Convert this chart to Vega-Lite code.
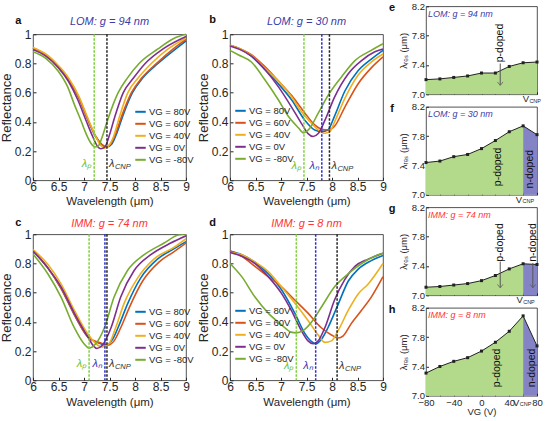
{
  "$schema": "https://vega.github.io/schema/vega-lite/v6.json",
  "padding": {"left": 0, "top": 0, "right": 0, "bottom": 0},
  "config": {
    "font": "Liberation Sans",
    "view": {"stroke": "#262626", "strokeWidth": 0.8},
    "axis": {"domain": false, "grid": false, "tickColor": "#262626", "labelColor": "#262626", "titleColor": "#262626", "titleFontWeight": "normal", "labelFlush": false, "labelOverlap": false, "tickCount": 20},
    "legend": {"symbolType": "stroke", "symbolSize": 110, "symbolStrokeWidth": 2, "labelFontSize": 9.5, "labelColor": "#262626", "labelOffset": 2, "rowPadding": 1, "padding": 0}
  },
  "datasets": {
    "refl": [
      {"p":"a","v":"80V","w":6,"r":0.905},{"p":"a","v":"80V","w":6.25,"r":0.86},{"p":"a","v":"80V","w":6.5,"r":0.78},{"p":"a","v":"80V","w":6.7,"r":0.69},{"p":"a","v":"80V","w":6.9,"r":0.565},{"p":"a","v":"80V","w":7.07,"r":0.42},{"p":"a","v":"80V","w":7.23,"r":0.3},{"p":"a","v":"80V","w":7.35,"r":0.245},{"p":"a","v":"80V","w":7.45,"r":0.228},{"p":"a","v":"80V","w":7.55,"r":0.25},{"p":"a","v":"80V","w":7.64,"r":0.32},{"p":"a","v":"80V","w":7.77,"r":0.45},{"p":"a","v":"80V","w":7.95,"r":0.6},{"p":"a","v":"80V","w":8.15,"r":0.7},{"p":"a","v":"80V","w":8.45,"r":0.8},{"p":"a","v":"80V","w":8.8,"r":0.9},{"p":"a","v":"80V","w":9,"r":0.955},
      {"p":"a","v":"60V","w":6,"r":0.905},{"p":"a","v":"60V","w":6.25,"r":0.86},{"p":"a","v":"60V","w":6.5,"r":0.78},{"p":"a","v":"60V","w":6.7,"r":0.69},{"p":"a","v":"60V","w":6.9,"r":0.565},{"p":"a","v":"60V","w":7.07,"r":0.42},{"p":"a","v":"60V","w":7.23,"r":0.3},{"p":"a","v":"60V","w":7.34,"r":0.248},{"p":"a","v":"60V","w":7.43,"r":0.23},{"p":"a","v":"60V","w":7.52,"r":0.248},{"p":"a","v":"60V","w":7.62,"r":0.32},{"p":"a","v":"60V","w":7.75,"r":0.45},{"p":"a","v":"60V","w":7.93,"r":0.6},{"p":"a","v":"60V","w":8.13,"r":0.7},{"p":"a","v":"60V","w":8.42,"r":0.8},{"p":"a","v":"60V","w":8.75,"r":0.9},{"p":"a","v":"60V","w":9,"r":0.965},
      {"p":"a","v":"40V","w":6,"r":0.91},{"p":"a","v":"40V","w":6.25,"r":0.865},{"p":"a","v":"40V","w":6.5,"r":0.785},{"p":"a","v":"40V","w":6.7,"r":0.7},{"p":"a","v":"40V","w":6.9,"r":0.575},{"p":"a","v":"40V","w":7.07,"r":0.43},{"p":"a","v":"40V","w":7.23,"r":0.3},{"p":"a","v":"40V","w":7.33,"r":0.238},{"p":"a","v":"40V","w":7.4,"r":0.22},{"p":"a","v":"40V","w":7.48,"r":0.235},{"p":"a","v":"40V","w":7.58,"r":0.3},{"p":"a","v":"40V","w":7.7,"r":0.44},{"p":"a","v":"40V","w":7.86,"r":0.6},{"p":"a","v":"40V","w":8.06,"r":0.7},{"p":"a","v":"40V","w":8.32,"r":0.8},{"p":"a","v":"40V","w":8.65,"r":0.9},{"p":"a","v":"40V","w":9,"r":0.975},
      {"p":"a","v":"0V","w":6,"r":0.895},{"p":"a","v":"0V","w":6.25,"r":0.85},{"p":"a","v":"0V","w":6.5,"r":0.77},{"p":"a","v":"0V","w":6.7,"r":0.675},{"p":"a","v":"0V","w":6.88,"r":0.55},{"p":"a","v":"0V","w":7.04,"r":0.41},{"p":"a","v":"0V","w":7.17,"r":0.3},{"p":"a","v":"0V","w":7.27,"r":0.23},{"p":"a","v":"0V","w":7.33,"r":0.216},{"p":"a","v":"0V","w":7.41,"r":0.228},{"p":"a","v":"0V","w":7.49,"r":0.3},{"p":"a","v":"0V","w":7.6,"r":0.43},{"p":"a","v":"0V","w":7.77,"r":0.6},{"p":"a","v":"0V","w":7.97,"r":0.7},{"p":"a","v":"0V","w":8.2,"r":0.8},{"p":"a","v":"0V","w":8.55,"r":0.9},{"p":"a","v":"0V","w":9,"r":0.985},
      {"p":"a","v":"-80V","w":6,"r":0.88},{"p":"a","v":"-80V","w":6.25,"r":0.835},{"p":"a","v":"-80V","w":6.5,"r":0.745},{"p":"a","v":"-80V","w":6.68,"r":0.64},{"p":"a","v":"-80V","w":6.81,"r":0.52},{"p":"a","v":"-80V","w":6.94,"r":0.41},{"p":"a","v":"-80V","w":7.04,"r":0.32},{"p":"a","v":"-80V","w":7.14,"r":0.252},{"p":"a","v":"-80V","w":7.22,"r":0.228},{"p":"a","v":"-80V","w":7.29,"r":0.24},{"p":"a","v":"-80V","w":7.36,"r":0.3},{"p":"a","v":"-80V","w":7.46,"r":0.41},{"p":"a","v":"-80V","w":7.67,"r":0.6},{"p":"a","v":"-80V","w":7.85,"r":0.7},{"p":"a","v":"-80V","w":8.08,"r":0.8},{"p":"a","v":"-80V","w":8.45,"r":0.9},{"p":"a","v":"-80V","w":8.75,"r":0.97},{"p":"a","v":"-80V","w":9,"r":1.0},

      {"p":"b","v":"80V","w":6,"r":0.925},{"p":"b","v":"80V","w":6.2,"r":0.9},{"p":"b","v":"80V","w":6.42,"r":0.85},{"p":"b","v":"80V","w":6.68,"r":0.76},{"p":"b","v":"80V","w":6.95,"r":0.66},{"p":"b","v":"80V","w":7.21,"r":0.55},{"p":"b","v":"80V","w":7.47,"r":0.41},{"p":"b","v":"80V","w":7.66,"r":0.345},{"p":"b","v":"80V","w":7.8,"r":0.335},{"p":"b","v":"80V","w":7.92,"r":0.345},{"p":"b","v":"80V","w":8.05,"r":0.44},{"p":"b","v":"80V","w":8.25,"r":0.61},{"p":"b","v":"80V","w":8.51,"r":0.75},{"p":"b","v":"80V","w":8.77,"r":0.83},{"p":"b","v":"80V","w":9,"r":0.89},
      {"p":"b","v":"60V","w":6,"r":0.925},{"p":"b","v":"60V","w":6.2,"r":0.9},{"p":"b","v":"60V","w":6.42,"r":0.86},{"p":"b","v":"60V","w":6.68,"r":0.78},{"p":"b","v":"60V","w":6.95,"r":0.68},{"p":"b","v":"60V","w":7.21,"r":0.58},{"p":"b","v":"60V","w":7.47,"r":0.46},{"p":"b","v":"60V","w":7.66,"r":0.38},{"p":"b","v":"60V","w":7.8,"r":0.35},{"p":"b","v":"60V","w":7.92,"r":0.345},{"p":"b","v":"60V","w":8.05,"r":0.37},{"p":"b","v":"60V","w":8.25,"r":0.5},{"p":"b","v":"60V","w":8.51,"r":0.66},{"p":"b","v":"60V","w":8.77,"r":0.77},{"p":"b","v":"60V","w":9,"r":0.845},
      {"p":"b","v":"40V","w":6,"r":0.925},{"p":"b","v":"40V","w":6.2,"r":0.9},{"p":"b","v":"40V","w":6.42,"r":0.855},{"p":"b","v":"40V","w":6.68,"r":0.77},{"p":"b","v":"40V","w":6.95,"r":0.68},{"p":"b","v":"40V","w":7.21,"r":0.57},{"p":"b","v":"40V","w":7.4,"r":0.47},{"p":"b","v":"40V","w":7.6,"r":0.39},{"p":"b","v":"40V","w":7.73,"r":0.345},{"p":"b","v":"40V","w":7.86,"r":0.322},{"p":"b","v":"40V","w":7.96,"r":0.335},{"p":"b","v":"40V","w":8.05,"r":0.4},{"p":"b","v":"40V","w":8.25,"r":0.56},{"p":"b","v":"40V","w":8.51,"r":0.72},{"p":"b","v":"40V","w":8.77,"r":0.81},{"p":"b","v":"40V","w":9,"r":0.865},
      {"p":"b","v":"0V","w":6,"r":0.92},{"p":"b","v":"0V","w":6.2,"r":0.895},{"p":"b","v":"0V","w":6.42,"r":0.85},{"p":"b","v":"0V","w":6.68,"r":0.76},{"p":"b","v":"0V","w":6.95,"r":0.64},{"p":"b","v":"0V","w":7.21,"r":0.5},{"p":"b","v":"0V","w":7.4,"r":0.39},{"p":"b","v":"0V","w":7.53,"r":0.32},{"p":"b","v":"0V","w":7.63,"r":0.3},{"p":"b","v":"0V","w":7.73,"r":0.32},{"p":"b","v":"0V","w":7.86,"r":0.41},{"p":"b","v":"0V","w":8.05,"r":0.57},{"p":"b","v":"0V","w":8.32,"r":0.73},{"p":"b","v":"0V","w":8.58,"r":0.82},{"p":"b","v":"0V","w":8.84,"r":0.88},{"p":"b","v":"0V","w":9,"r":0.9},
      {"p":"b","v":"-80V","w":6,"r":0.89},{"p":"b","v":"-80V","w":6.16,"r":0.86},{"p":"b","v":"-80V","w":6.42,"r":0.81},{"p":"b","v":"-80V","w":6.68,"r":0.69},{"p":"b","v":"-80V","w":6.95,"r":0.55},{"p":"b","v":"-80V","w":7.14,"r":0.44},{"p":"b","v":"-80V","w":7.34,"r":0.36},{"p":"b","v":"-80V","w":7.44,"r":0.325},{"p":"b","v":"-80V","w":7.56,"r":0.355},{"p":"b","v":"-80V","w":7.73,"r":0.46},{"p":"b","v":"-80V","w":7.92,"r":0.58},{"p":"b","v":"-80V","w":8.19,"r":0.71},{"p":"b","v":"-80V","w":8.45,"r":0.82},{"p":"b","v":"-80V","w":8.77,"r":0.89},{"p":"b","v":"-80V","w":9,"r":0.935},

      {"p":"c","v":"80V","w":6,"r":0.89},{"p":"c","v":"80V","w":6.29,"r":0.77},{"p":"c","v":"80V","w":6.55,"r":0.63},{"p":"c","v":"80V","w":6.81,"r":0.45},{"p":"c","v":"80V","w":7.07,"r":0.3},{"p":"c","v":"80V","w":7.33,"r":0.25},{"p":"c","v":"80V","w":7.43,"r":0.24},{"p":"c","v":"80V","w":7.56,"r":0.28},{"p":"c","v":"80V","w":7.69,"r":0.38},{"p":"c","v":"80V","w":7.85,"r":0.52},{"p":"c","v":"80V","w":8.11,"r":0.7},{"p":"c","v":"80V","w":8.44,"r":0.83},{"p":"c","v":"80V","w":8.76,"r":0.9},{"p":"c","v":"80V","w":9,"r":0.95},
      {"p":"c","v":"60V","w":6,"r":0.89},{"p":"c","v":"60V","w":6.29,"r":0.77},{"p":"c","v":"60V","w":6.55,"r":0.63},{"p":"c","v":"60V","w":6.81,"r":0.45},{"p":"c","v":"60V","w":7.07,"r":0.3},{"p":"c","v":"60V","w":7.33,"r":0.255},{"p":"c","v":"60V","w":7.46,"r":0.24},{"p":"c","v":"60V","w":7.59,"r":0.27},{"p":"c","v":"60V","w":7.72,"r":0.36},{"p":"c","v":"60V","w":7.89,"r":0.5},{"p":"c","v":"60V","w":8.15,"r":0.68},{"p":"c","v":"60V","w":8.47,"r":0.81},{"p":"c","v":"60V","w":8.76,"r":0.88},{"p":"c","v":"60V","w":9,"r":0.94},
      {"p":"c","v":"40V","w":6,"r":0.895},{"p":"c","v":"40V","w":6.29,"r":0.795},{"p":"c","v":"40V","w":6.55,"r":0.66},{"p":"c","v":"40V","w":6.81,"r":0.48},{"p":"c","v":"40V","w":7.07,"r":0.32},{"p":"c","v":"40V","w":7.27,"r":0.24},{"p":"c","v":"40V","w":7.36,"r":0.228},{"p":"c","v":"40V","w":7.49,"r":0.25},{"p":"c","v":"40V","w":7.62,"r":0.36},{"p":"c","v":"40V","w":7.79,"r":0.53},{"p":"c","v":"40V","w":8.05,"r":0.7},{"p":"c","v":"40V","w":8.37,"r":0.83},{"p":"c","v":"40V","w":8.76,"r":0.91},{"p":"c","v":"40V","w":9,"r":0.97},
      {"p":"c","v":"0V","w":6,"r":0.885},{"p":"c","v":"0V","w":6.29,"r":0.77},{"p":"c","v":"0V","w":6.55,"r":0.64},{"p":"c","v":"0V","w":6.81,"r":0.46},{"p":"c","v":"0V","w":7.07,"r":0.3},{"p":"c","v":"0V","w":7.2,"r":0.23},{"p":"c","v":"0V","w":7.25,"r":0.218},{"p":"c","v":"0V","w":7.36,"r":0.24},{"p":"c","v":"0V","w":7.53,"r":0.36},{"p":"c","v":"0V","w":7.72,"r":0.57},{"p":"c","v":"0V","w":7.98,"r":0.75},{"p":"c","v":"0V","w":8.31,"r":0.86},{"p":"c","v":"0V","w":8.7,"r":0.94},{"p":"c","v":"0V","w":9,"r":0.99},
      {"p":"c","v":"-80V","w":6,"r":0.865},{"p":"c","v":"-80V","w":6.29,"r":0.73},{"p":"c","v":"-80V","w":6.55,"r":0.57},{"p":"c","v":"-80V","w":6.81,"r":0.36},{"p":"c","v":"-80V","w":7.0,"r":0.25},{"p":"c","v":"-80V","w":7.1,"r":0.22},{"p":"c","v":"-80V","w":7.23,"r":0.25},{"p":"c","v":"-80V","w":7.4,"r":0.36},{"p":"c","v":"-80V","w":7.59,"r":0.57},{"p":"c","v":"-80V","w":7.85,"r":0.75},{"p":"c","v":"-80V","w":8.18,"r":0.86},{"p":"c","v":"-80V","w":8.57,"r":0.94},{"p":"c","v":"-80V","w":8.85,"r":0.995},{"p":"c","v":"-80V","w":9,"r":1.0},

      {"p":"d","v":"80V","w":6,"r":0.885},{"p":"d","v":"80V","w":6.23,"r":0.86},{"p":"d","v":"80V","w":6.49,"r":0.81},{"p":"d","v":"80V","w":6.75,"r":0.73},{"p":"d","v":"80V","w":7.01,"r":0.62},{"p":"d","v":"80V","w":7.27,"r":0.46},{"p":"d","v":"80V","w":7.47,"r":0.32},{"p":"d","v":"80V","w":7.6,"r":0.265},{"p":"d","v":"80V","w":7.68,"r":0.25},{"p":"d","v":"80V","w":7.79,"r":0.28},{"p":"d","v":"80V","w":7.92,"r":0.36},{"p":"d","v":"80V","w":8.12,"r":0.52},{"p":"d","v":"80V","w":8.32,"r":0.68},{"p":"d","v":"80V","w":8.51,"r":0.76},{"p":"d","v":"80V","w":8.77,"r":0.82},{"p":"d","v":"80V","w":9,"r":0.855},
      {"p":"d","v":"60V","w":6,"r":0.885},{"p":"d","v":"60V","w":6.23,"r":0.85},{"p":"d","v":"60V","w":6.49,"r":0.78},{"p":"d","v":"60V","w":6.75,"r":0.71},{"p":"d","v":"60V","w":7.01,"r":0.64},{"p":"d","v":"60V","w":7.27,"r":0.55},{"p":"d","v":"60V","w":7.53,"r":0.46},{"p":"d","v":"60V","w":7.79,"r":0.36},{"p":"d","v":"60V","w":7.99,"r":0.31},{"p":"d","v":"60V","w":8.12,"r":0.29},{"p":"d","v":"60V","w":8.22,"r":0.305},{"p":"d","v":"60V","w":8.38,"r":0.39},{"p":"d","v":"60V","w":8.58,"r":0.48},{"p":"d","v":"60V","w":8.77,"r":0.57},{"p":"d","v":"60V","w":9,"r":0.71},
      {"p":"d","v":"40V","w":6,"r":0.875},{"p":"d","v":"40V","w":6.23,"r":0.86},{"p":"d","v":"40V","w":6.49,"r":0.81},{"p":"d","v":"40V","w":6.75,"r":0.745},{"p":"d","v":"40V","w":7.01,"r":0.64},{"p":"d","v":"40V","w":7.27,"r":0.53},{"p":"d","v":"40V","w":7.53,"r":0.41},{"p":"d","v":"40V","w":7.73,"r":0.31},{"p":"d","v":"40V","w":7.86,"r":0.26},{"p":"d","v":"40V","w":7.99,"r":0.27},{"p":"d","v":"40V","w":8.12,"r":0.34},{"p":"d","v":"40V","w":8.32,"r":0.48},{"p":"d","v":"40V","w":8.51,"r":0.59},{"p":"d","v":"40V","w":8.71,"r":0.66},{"p":"d","v":"40V","w":9,"r":0.8},
      {"p":"d","v":"0V","w":6,"r":0.875},{"p":"d","v":"0V","w":6.23,"r":0.85},{"p":"d","v":"0V","w":6.49,"r":0.8},{"p":"d","v":"0V","w":6.75,"r":0.71},{"p":"d","v":"0V","w":7.01,"r":0.595},{"p":"d","v":"0V","w":7.2,"r":0.48},{"p":"d","v":"0V","w":7.4,"r":0.34},{"p":"d","v":"0V","w":7.53,"r":0.27},{"p":"d","v":"0V","w":7.63,"r":0.25},{"p":"d","v":"0V","w":7.73,"r":0.27},{"p":"d","v":"0V","w":7.86,"r":0.36},{"p":"d","v":"0V","w":8.05,"r":0.55},{"p":"d","v":"0V","w":8.25,"r":0.69},{"p":"d","v":"0V","w":8.45,"r":0.78},{"p":"d","v":"0V","w":8.71,"r":0.83},{"p":"d","v":"0V","w":9,"r":0.87},
      {"p":"d","v":"-80V","w":6,"r":0.8},{"p":"d","v":"-80V","w":6.23,"r":0.71},{"p":"d","v":"-80V","w":6.49,"r":0.57},{"p":"d","v":"-80V","w":6.75,"r":0.46},{"p":"d","v":"-80V","w":7.01,"r":0.38},{"p":"d","v":"-80V","w":7.2,"r":0.33},{"p":"d","v":"-80V","w":7.3,"r":0.325},{"p":"d","v":"-80V","w":7.43,"r":0.34},{"p":"d","v":"-80V","w":7.6,"r":0.4},{"p":"d","v":"-80V","w":7.79,"r":0.5},{"p":"d","v":"-80V","w":8.05,"r":0.64},{"p":"d","v":"-80V","w":8.32,"r":0.73},{"p":"d","v":"-80V","w":8.58,"r":0.8},{"p":"d","v":"-80V","w":8.84,"r":0.85},{"p":"d","v":"-80V","w":9,"r":0.87}
    ],
    "lam": [
      {"p":"a","k":"p","w":7.2},{"p":"a","k":"cnp","w":7.45},
      {"p":"b","k":"p","w":7.45},{"p":"b","k":"n","w":7.8},{"p":"b","k":"cnp","w":7.95},
      {"p":"c","k":"p","w":7.1},{"p":"c","k":"n","w":7.41},{"p":"c","k":"cnp","w":7.45},
      {"p":"d","k":"p","w":7.3},{"p":"d","k":"n","w":7.68},{"p":"d","k":"cnp","w":8.1}
    ],
    "res": [
      {"p":"e","vg":-80,"lam":7.2},{"p":"e","vg":-60,"lam":7.21},{"p":"e","vg":-40,"lam":7.23},{"p":"e","vg":-20,"lam":7.25},{"p":"e","vg":0,"lam":7.29},{"p":"e","vg":20,"lam":7.29},{"p":"e","vg":40,"lam":7.38},{"p":"e","vg":60,"lam":7.43},{"p":"e","vg":80,"lam":7.44},
      {"p":"f","vg":-80,"lam":7.44},{"p":"f","vg":-60,"lam":7.46},{"p":"f","vg":-40,"lam":7.52},{"p":"f","vg":-20,"lam":7.55},{"p":"f","vg":0,"lam":7.63},{"p":"f","vg":20,"lam":7.74},{"p":"f","vg":40,"lam":7.86},{"p":"f","vg":60,"lam":7.94},{"p":"f","vg":80,"lam":7.82},
      {"p":"g","vg":-80,"lam":7.11},{"p":"g","vg":-60,"lam":7.12},{"p":"g","vg":-40,"lam":7.14},{"p":"g","vg":-20,"lam":7.16},{"p":"g","vg":0,"lam":7.2},{"p":"g","vg":20,"lam":7.27},{"p":"g","vg":40,"lam":7.36},{"p":"g","vg":60,"lam":7.43},{"p":"g","vg":80,"lam":7.42},
      {"p":"h","vg":-80,"lam":7.31},{"p":"h","vg":-60,"lam":7.4},{"p":"h","vg":-40,"lam":7.47},{"p":"h","vg":-20,"lam":7.52},{"p":"h","vg":0,"lam":7.61},{"p":"h","vg":20,"lam":7.73},{"p":"h","vg":40,"lam":7.88},{"p":"h","vg":60,"lam":8.09},{"p":"h","vg":80,"lam":7.68}
    ]
  },
  "hconcat": [
    {
      "columns": 2,
      "bounds": "flush",
      "spacing": {"row": 54, "column": 44},
      "resolve": {"scale": {"color": "independent"}, "legend": {"color": "independent"}},
      "concat": [
        {
          "width": 153, "height": 146,
          "layer": [
            {"data": {"name": "refl"}, "transform": [{"filter": "datum.p == 'a'"}],
             "mark": {"type": "line", "strokeWidth": 1.6, "interpolate": "monotone"},
             "encoding": {
               "x": {"field": "w", "type": "quantitative", "scale": {"domain": [6, 9], "nice": false, "zero": false},
                     "axis": {"values": [6, 6.5, 7, 7.5, 8, 8.5, 9], "tickCount": 20, "format": "~g", "labelFontSize": 12, "tickSize": -3, "labelPadding": 4, "title": "Wavelength (μm)", "titleFontSize": 11.5, "titlePadding": 3}},
               "y": {"field": "r", "type": "quantitative", "scale": {"domain": [0, 1], "nice": false},
                     "axis": {"values": [0, 0.2, 0.4, 0.6, 0.8, 1], "tickCount": 20, "format": "~g", "labelFontSize": 12, "tickSize": -3, "labelPadding": 5, "title": "Reflectance", "titleFontSize": 13, "titlePadding": 0.5}},
               "color": {"field": "v", "type": "nominal",
                         "scale": {"domain": ["80V", "60V", "40V", "0V", "-80V"], "range": ["#0072BD", "#D95319", "#EDB120", "#7E2F8E", "#77AC30"]},
                         "legend": {"title": null, "orient": "none", "legendX": 101, "legendY": 71, "labelExpr": "'VG = ' + datum.label"}}
             }},
            {"data": {"name": "lam"}, "transform": [{"filter": "datum.p == 'a'"}],
             "mark": {"type": "rule", "strokeDash": [2.5, 1.5], "strokeWidth": 1.5},
             "encoding": {"x": {"field": "w", "type": "quantitative"},
                          "stroke": {"condition": [{"test": "datum.k == 'p'", "value": "#7ccf3c"}, {"test": "datum.k == 'n'", "value": "#2b2bd0"}], "value": "#222222"}}},
            {"data": {"name": "lam"}, "transform": [{"filter": "datum.p == 'a' && datum.k != 'cnp'"}],
             "mark": {"type": "text", "align": "right", "dx": -3, "fontSize": 11, "fontStyle": "italic"},
             "encoding": {"x": {"field": "w", "type": "quantitative"}, "y": {"datum": 0.11},
                          "text": {"condition": {"test": "datum.k == 'p'", "value": "λₚ"}, "value": "λₙ"},
                          "fill": {"condition": {"test": "datum.k == 'p'", "value": "#6cc030"}, "value": "#3535b8"}}},
            {"data": {"name": "lam"}, "transform": [{"filter": "datum.p == 'a' && datum.k == 'cnp'"}],
             "mark": {"type": "text", "align": "left", "dx": 2, "fontSize": 11, "fontStyle": "italic", "fill": "#333333"},
             "encoding": {"x": {"field": "w", "type": "quantitative"}, "y": {"datum": 0.11}, "text": {"value": "λ"}}},
            {"data": {"name": "lam"}, "transform": [{"filter": "datum.p == 'a' && datum.k == 'cnp'"}],
             "mark": {"type": "text", "align": "left", "dx": 8, "dy": 3, "fontSize": 7.5, "fontStyle": "italic", "fill": "#333333"},
             "encoding": {"x": {"field": "w", "type": "quantitative"}, "y": {"datum": 0.11}, "text": {"value": "CNP"}}},
            {"data": {"values": [{}]},
             "mark": {"type": "text", "fontSize": 11, "fontStyle": "italic", "fill": "#3c3ca8"},
             "encoding": {"x": {"datum": 7.5}, "y": {"datum": 1.085}, "text": {"value": "LOM: g = 94 nm"}}},
            {"data": {"values": [{}]},
             "mark": {"type": "text", "fontSize": 11, "fontWeight": "bold", "fill": "#111111"},
             "encoding": {"x": {"datum": 5.71}, "y": {"datum": 1.09}, "text": {"value": "a"}}}
          ]
        },
        {
          "width": 153, "height": 146,
          "layer": [
            {"data": {"name": "refl"}, "transform": [{"filter": "datum.p == 'b'"}],
             "mark": {"type": "line", "strokeWidth": 1.6, "interpolate": "monotone"},
             "encoding": {
               "x": {"field": "w", "type": "quantitative", "scale": {"domain": [6, 9], "nice": false, "zero": false},
                     "axis": {"values": [6, 6.5, 7, 7.5, 8, 8.5, 9], "tickCount": 20, "format": "~g", "labelFontSize": 12, "tickSize": -3, "labelPadding": 4, "title": "Wavelength (μm)", "titleFontSize": 11.5, "titlePadding": 3}},
               "y": {"field": "r", "type": "quantitative", "scale": {"domain": [0, 1], "nice": false},
                     "axis": {"values": [0, 0.2, 0.4, 0.6, 0.8, 1], "tickCount": 20, "format": "~g", "labelFontSize": 12, "tickSize": -3, "labelPadding": 5, "title": "Reflectance", "titleFontSize": 13, "titlePadding": 0.5}},
               "color": {"field": "v", "type": "nominal",
                         "scale": {"domain": ["80V", "60V", "40V", "0V", "-80V"], "range": ["#0072BD", "#D95319", "#EDB120", "#7E2F8E", "#77AC30"]},
                         "legend": {"title": null, "orient": "none", "legendX": 4, "legendY": 70, "labelExpr": "'VG = ' + datum.label"}}
             }},
            {"data": {"name": "lam"}, "transform": [{"filter": "datum.p == 'b'"}],
             "mark": {"type": "rule", "strokeDash": [2.5, 1.5], "strokeWidth": 1.5},
             "encoding": {"x": {"field": "w", "type": "quantitative"},
                          "stroke": {"condition": [{"test": "datum.k == 'p'", "value": "#7ccf3c"}, {"test": "datum.k == 'n'", "value": "#2b2bd0"}], "value": "#222222"}}},
            {"data": {"name": "lam"}, "transform": [{"filter": "datum.p == 'b' && datum.k != 'cnp'"}],
             "mark": {"type": "text", "align": "right", "dx": -3, "fontSize": 11, "fontStyle": "italic"},
             "encoding": {"x": {"field": "w", "type": "quantitative"}, "y": {"datum": 0.1},
                          "text": {"condition": {"test": "datum.k == 'p'", "value": "λₚ"}, "value": "λₙ"},
                          "fill": {"condition": {"test": "datum.k == 'p'", "value": "#6cc030"}, "value": "#3535b8"}}},
            {"data": {"name": "lam"}, "transform": [{"filter": "datum.p == 'b' && datum.k == 'cnp'"}],
             "mark": {"type": "text", "align": "left", "dx": 2, "fontSize": 11, "fontStyle": "italic", "fill": "#333333"},
             "encoding": {"x": {"field": "w", "type": "quantitative"}, "y": {"datum": 0.1}, "text": {"value": "λ"}}},
            {"data": {"name": "lam"}, "transform": [{"filter": "datum.p == 'b' && datum.k == 'cnp'"}],
             "mark": {"type": "text", "align": "left", "dx": 8, "dy": 3, "fontSize": 7.5, "fontStyle": "italic", "fill": "#333333"},
             "encoding": {"x": {"field": "w", "type": "quantitative"}, "y": {"datum": 0.1}, "text": {"value": "CNP"}}},
            {"data": {"values": [{}]},
             "mark": {"type": "text", "fontSize": 11, "fontStyle": "italic", "fill": "#3c3ca8"},
             "encoding": {"x": {"datum": 7.5}, "y": {"datum": 1.085}, "text": {"value": "LOM: g = 30 nm"}}},
            {"data": {"values": [{}]},
             "mark": {"type": "text", "fontSize": 11, "fontWeight": "bold", "fill": "#111111"},
             "encoding": {"x": {"datum": 5.66}, "y": {"datum": 1.095}, "text": {"value": "b"}}}
          ]
        },
        {
          "width": 153, "height": 146,
          "layer": [
            {"data": {"name": "refl"}, "transform": [{"filter": "datum.p == 'c'"}],
             "mark": {"type": "line", "strokeWidth": 1.6, "interpolate": "monotone", "clip": true},
             "encoding": {
               "x": {"field": "w", "type": "quantitative", "scale": {"domain": [6, 9], "nice": false, "zero": false},
                     "axis": {"values": [6, 6.5, 7, 7.5, 8, 8.5, 9], "tickCount": 20, "format": "~g", "labelFontSize": 12, "tickSize": -3, "labelPadding": 4, "title": "Wavelength (μm)", "titleFontSize": 11.5, "titlePadding": 4.5}},
               "y": {"field": "r", "type": "quantitative", "scale": {"domain": [0, 1], "nice": false},
                     "axis": {"values": [0, 0.2, 0.4, 0.6, 0.8, 1], "tickCount": 20, "format": "~g", "labelFontSize": 12, "tickSize": -3, "labelPadding": 5, "title": "Reflectance", "titleFontSize": 13, "titlePadding": 0.5}},
               "color": {"field": "v", "type": "nominal",
                         "scale": {"domain": ["80V", "60V", "40V", "0V", "-80V"], "range": ["#0072BD", "#D95319", "#EDB120", "#7E2F8E", "#77AC30"]},
                         "legend": {"title": null, "orient": "none", "legendX": 101, "legendY": 71, "labelExpr": "'VG = ' + datum.label"}}
             }},
            {"data": {"name": "lam"}, "transform": [{"filter": "datum.p == 'c'"}],
             "mark": {"type": "rule", "strokeDash": [2.5, 1.5], "strokeWidth": 1.5},
             "encoding": {"x": {"field": "w", "type": "quantitative"},
                          "stroke": {"condition": [{"test": "datum.k == 'p'", "value": "#7ccf3c"}, {"test": "datum.k == 'n'", "value": "#2b2bd0"}], "value": "#222222"}}},
            {"data": {"name": "lam"}, "transform": [{"filter": "datum.p == 'c' && datum.k != 'cnp'"}],
             "mark": {"type": "text", "align": "right", "dx": -3, "fontSize": 11, "fontStyle": "italic"},
             "encoding": {"x": {"field": "w", "type": "quantitative"}, "y": {"datum": 0.11},
                          "text": {"condition": {"test": "datum.k == 'p'", "value": "λₚ"}, "value": "λₙ"},
                          "fill": {"condition": {"test": "datum.k == 'p'", "value": "#6cc030"}, "value": "#3535b8"}}},
            {"data": {"name": "lam"}, "transform": [{"filter": "datum.p == 'c' && datum.k == 'cnp'"}],
             "mark": {"type": "text", "align": "left", "dx": 2, "fontSize": 11, "fontStyle": "italic", "fill": "#333333"},
             "encoding": {"x": {"field": "w", "type": "quantitative"}, "y": {"datum": 0.11}, "text": {"value": "λ"}}},
            {"data": {"name": "lam"}, "transform": [{"filter": "datum.p == 'c' && datum.k == 'cnp'"}],
             "mark": {"type": "text", "align": "left", "dx": 8, "dy": 3, "fontSize": 7.5, "fontStyle": "italic", "fill": "#333333"},
             "encoding": {"x": {"field": "w", "type": "quantitative"}, "y": {"datum": 0.11}, "text": {"value": "CNP"}}},
            {"data": {"values": [{}]},
             "mark": {"type": "text", "fontSize": 11, "fontStyle": "italic", "fill": "#ff3535"},
             "encoding": {"x": {"datum": 7.5}, "y": {"datum": 1.07}, "text": {"value": "IMM: g = 74 nm"}}},
            {"data": {"values": [{}]},
             "mark": {"type": "text", "fontSize": 11, "fontWeight": "bold", "fill": "#111111"},
             "encoding": {"x": {"datum": 5.71}, "y": {"datum": 1.075}, "text": {"value": "c"}}}
          ]
        },
        {
          "width": 153, "height": 146,
          "layer": [
            {"data": {"name": "refl"}, "transform": [{"filter": "datum.p == 'd'"}],
             "mark": {"type": "line", "strokeWidth": 1.6, "interpolate": "monotone"},
             "encoding": {
               "x": {"field": "w", "type": "quantitative", "scale": {"domain": [6, 9], "nice": false, "zero": false},
                     "axis": {"values": [6, 6.5, 7, 7.5, 8, 8.5, 9], "tickCount": 20, "format": "~g", "labelFontSize": 12, "tickSize": -3, "labelPadding": 4, "title": "Wavelength (μm)", "titleFontSize": 11.5, "titlePadding": 4.5}},
               "y": {"field": "r", "type": "quantitative", "scale": {"domain": [0, 1], "nice": false},
                     "axis": {"values": [0, 0.2, 0.4, 0.6, 0.8, 1], "tickCount": 20, "format": "~g", "labelFontSize": 12, "tickSize": -3, "labelPadding": 5, "title": "Reflectance", "titleFontSize": 13, "titlePadding": 0.5}},
               "color": {"field": "v", "type": "nominal",
                         "scale": {"domain": ["80V", "60V", "40V", "0V", "-80V"], "range": ["#0072BD", "#D95319", "#EDB120", "#7E2F8E", "#77AC30"]},
                         "legend": {"title": null, "orient": "none", "legendX": 4, "legendY": 70, "labelExpr": "'VG = ' + datum.label"}}
             }},
            {"data": {"name": "lam"}, "transform": [{"filter": "datum.p == 'd'"}],
             "mark": {"type": "rule", "strokeDash": [2.5, 1.5], "strokeWidth": 1.5},
             "encoding": {"x": {"field": "w", "type": "quantitative"},
                          "stroke": {"condition": [{"test": "datum.k == 'p'", "value": "#7ccf3c"}, {"test": "datum.k == 'n'", "value": "#2b2bd0"}], "value": "#222222"}}},
            {"data": {"name": "lam"}, "transform": [{"filter": "datum.p == 'd' && datum.k != 'cnp'"}],
             "mark": {"type": "text", "align": "right", "dx": -3, "fontSize": 11, "fontStyle": "italic"},
             "encoding": {"x": {"field": "w", "type": "quantitative"}, "y": {"datum": 0.1},
                          "text": {"condition": {"test": "datum.k == 'p'", "value": "λₚ"}, "value": "λₙ"},
                          "fill": {"condition": {"test": "datum.k == 'p'", "value": "#6cc030"}, "value": "#3535b8"}}},
            {"data": {"name": "lam"}, "transform": [{"filter": "datum.p == 'd' && datum.k == 'cnp'"}],
             "mark": {"type": "text", "align": "left", "dx": 2, "fontSize": 11, "fontStyle": "italic", "fill": "#333333"},
             "encoding": {"x": {"field": "w", "type": "quantitative"}, "y": {"datum": 0.1}, "text": {"value": "λ"}}},
            {"data": {"name": "lam"}, "transform": [{"filter": "datum.p == 'd' && datum.k == 'cnp'"}],
             "mark": {"type": "text", "align": "left", "dx": 8, "dy": 3, "fontSize": 7.5, "fontStyle": "italic", "fill": "#333333"},
             "encoding": {"x": {"field": "w", "type": "quantitative"}, "y": {"datum": 0.1}, "text": {"value": "CNP"}}},
            {"data": {"values": [{}]},
             "mark": {"type": "text", "fontSize": 11, "fontStyle": "italic", "fill": "#ff3535"},
             "encoding": {"x": {"datum": 7.5}, "y": {"datum": 1.07}, "text": {"value": "IMM: g = 8 nm"}}},
            {"data": {"values": [{}]},
             "mark": {"type": "text", "fontSize": 11, "fontWeight": "bold", "fill": "#111111"},
             "encoding": {"x": {"datum": 5.66}, "y": {"datum": 1.075}, "text": {"value": "d"}}}
          ]
        }
      ]
    },
    {
      "bounds": "flush",
      "spacing": 12.5,
      "title": {"text": " ", "orient": "bottom", "offset": 10, "fontSize": 10},
      "vconcat": [
        {
          "width": 111, "height": 88,
          "layer": [
            {"data": {"name": "res"}, "transform": [{"filter": "datum.p == 'e'"}],
             "mark": {"type": "area", "color": "#b3d98b"},
             "encoding": {
               "x": {"field": "vg", "type": "quantitative", "scale": {"domain": [-80, 80], "nice": false, "zero": false},
                     "axis": {"values": [-80, -60, -40, -20, 0, 20, 40, 60, 80], "tickCount": 20, "labels": false, "tickSize": -2.5, "title": null}},
               "y": {"field": "lam", "type": "quantitative", "scale": {"domain": [7, 8.2], "nice": false, "zero": false},
                     "axis": {"values": [7, 7.4, 7.8, 8.2], "tickCount": 20, "format": ".1f", "labelFontSize": 9.5, "tickSize": -2.5, "labelPadding": 4, "title": "λᵣₑₛ (μm)", "titleFontSize": 9.5, "titlePadding": 3}},
               "y2": {"datum": 7}
             }},
            {"data": {"name": "res"}, "transform": [{"filter": "datum.p == 'e'"}],
             "mark": {"type": "line", "color": "#222222", "strokeWidth": 1, "point": {"shape": "square", "size": 9, "filled": true, "color": "#222222"}},
             "encoding": {"x": {"field": "vg", "type": "quantitative"}, "y": {"field": "lam", "type": "quantitative"}}},
            {"data": {"values": [{}]},
             "mark": {"type": "rule", "color": "#555555", "strokeWidth": 1},
             "encoding": {"x": {"datum": 27}, "y": {"datum": 7.42}, "y2": {"datum": 7.13}}},
            {"data": {"values": [{}]},
             "mark": {"type": "point", "shape": "M-1,-1.3L0,0L1,-1.3", "size": 30, "filled": false, "color": "#555555", "strokeWidth": 1},
             "encoding": {"x": {"datum": 27}, "y": {"datum": 7.12}}},
            {"data": {"values": [{}]},
             "mark": {"type": "text", "angle": 270, "fontSize": 10.5, "fill": "#111111"},
             "encoding": {"x": {"datum": 27}, "y": {"datum": 7.7}, "text": {"value": "p-doped"}}},
            {"data": {"values": [{}]},
             "mark": {"type": "text", "align": "left", "baseline": "middle", "fontSize": 9, "fontStyle": "italic", "fill": "#3c3ca8"},
             "encoding": {"x": {"datum": -77}, "y": {"datum": 8.1}, "text": {"value": "LOM: g = 94 nm"}}},
            {"data": {"values": [{}]},
             "mark": {"type": "text", "align": "center", "baseline": "top", "dy": 0, "fontSize": 9.5, "fill": "#262626"},
             "encoding": {"x": {"datum": 64}, "y": {"datum": 7}, "text": {"value": "V"}}},
            {"data": {"values": [{}]},
             "mark": {"type": "text", "align": "left", "baseline": "top", "dx": 3.5, "dy": 4.5, "fontSize": 5.5, "fill": "#262626"},
             "encoding": {"x": {"datum": 64}, "y": {"datum": 7}, "text": {"value": "CNP"}}},
            {"data": {"values": [{}]},
             "mark": {"type": "text", "fontSize": 11, "fontWeight": "bold", "fill": "#111111"},
             "encoding": {"x": {"datum": -129}, "y": {"datum": 8.175}, "text": {"value": "e"}}}
          ]
        },
        {
          "width": 111, "height": 88,
          "layer": [
            {"data": {"name": "res"}, "transform": [{"filter": "datum.p == 'f' && datum.vg <= 60"}],
             "mark": {"type": "area", "color": "#b3d98b"},
             "encoding": {
               "x": {"field": "vg", "type": "quantitative", "scale": {"domain": [-80, 80], "nice": false, "zero": false},
                     "axis": {"values": [-80, -60, -40, -20, 0, 20, 40, 60, 80], "tickCount": 20, "labels": false, "tickSize": -2.5, "title": null}},
               "y": {"field": "lam", "type": "quantitative", "scale": {"domain": [7, 8.2], "nice": false, "zero": false},
                     "axis": {"values": [7, 7.4, 7.8, 8.2], "tickCount": 20, "format": ".1f", "labelFontSize": 9.5, "tickSize": -2.5, "labelPadding": 4, "title": "λᵣₑₛ (μm)", "titleFontSize": 9.5, "titlePadding": 3}},
               "y2": {"datum": 7}
             }},
            {"data": {"name": "res"}, "transform": [{"filter": "datum.p == 'f' && datum.vg >= 60"}],
             "mark": {"type": "area", "color": "#8383c6"},
             "encoding": {"x": {"field": "vg", "type": "quantitative"}, "y": {"field": "lam", "type": "quantitative"}, "y2": {"datum": 7}}},
            {"data": {"name": "res"}, "transform": [{"filter": "datum.p == 'f'"}],
             "mark": {"type": "line", "color": "#222222", "strokeWidth": 1, "point": {"shape": "square", "size": 9, "filled": true, "color": "#222222"}},
             "encoding": {"x": {"field": "vg", "type": "quantitative"}, "y": {"field": "lam", "type": "quantitative"}}},
            {"data": {"values": [{}]},
             "mark": {"type": "text", "angle": 270, "fontSize": 10.5, "fill": "#111111"},
             "encoding": {"x": {"datum": 24}, "y": {"datum": 7.38}, "text": {"value": "p-doped"}}},
            {"data": {"values": [{}]},
             "mark": {"type": "text", "angle": 270, "fontSize": 10.5, "fill": "#111111"},
             "encoding": {"x": {"datum": 70}, "y": {"datum": 7.35}, "text": {"value": "n-doped"}}},
            {"data": {"values": [{}]},
             "mark": {"type": "text", "align": "left", "baseline": "middle", "fontSize": 9, "fontStyle": "italic", "fill": "#3c3ca8"},
             "encoding": {"x": {"datum": -77}, "y": {"datum": 8.1}, "text": {"value": "LOM: g = 30 nm"}}},
            {"data": {"values": [{}]},
             "mark": {"type": "text", "align": "center", "baseline": "top", "dy": 0, "fontSize": 9.5, "fill": "#262626"},
             "encoding": {"x": {"datum": 54}, "y": {"datum": 7}, "text": {"value": "V"}}},
            {"data": {"values": [{}]},
             "mark": {"type": "text", "align": "left", "baseline": "top", "dx": 3.5, "dy": 4.5, "fontSize": 5.5, "fill": "#262626"},
             "encoding": {"x": {"datum": 54}, "y": {"datum": 7}, "text": {"value": "CNP"}}},
            {"data": {"values": [{}]},
             "mark": {"type": "text", "fontSize": 11, "fontWeight": "bold", "fill": "#111111"},
             "encoding": {"x": {"datum": -129}, "y": {"datum": 8.175}, "text": {"value": "f"}}}
          ]
        },
        {
          "width": 111, "height": 88,
          "layer": [
            {"data": {"name": "res"}, "transform": [{"filter": "datum.p == 'g' && datum.vg <= 60"}],
             "mark": {"type": "area", "color": "#b3d98b"},
             "encoding": {
               "x": {"field": "vg", "type": "quantitative", "scale": {"domain": [-80, 80], "nice": false, "zero": false},
                     "axis": {"values": [-80, -60, -40, -20, 0, 20, 40, 60, 80], "tickCount": 20, "labels": false, "tickSize": -2.5, "title": null}},
               "y": {"field": "lam", "type": "quantitative", "scale": {"domain": [7, 8.2], "nice": false, "zero": false},
                     "axis": {"values": [7, 7.4, 7.8, 8.2], "tickCount": 20, "format": ".1f", "labelFontSize": 9.5, "tickSize": -2.5, "labelPadding": 4, "title": "λᵣₑₛ (μm)", "titleFontSize": 9.5, "titlePadding": 3}},
               "y2": {"datum": 7}
             }},
            {"data": {"name": "res"}, "transform": [{"filter": "datum.p == 'g' && datum.vg >= 60"}],
             "mark": {"type": "area", "color": "#8383c6"},
             "encoding": {"x": {"field": "vg", "type": "quantitative"}, "y": {"field": "lam", "type": "quantitative"}, "y2": {"datum": 7}}},
            {"data": {"name": "res"}, "transform": [{"filter": "datum.p == 'g'"}],
             "mark": {"type": "line", "color": "#222222", "strokeWidth": 1, "point": {"shape": "square", "size": 9, "filled": true, "color": "#222222"}},
             "encoding": {"x": {"field": "vg", "type": "quantitative"}, "y": {"field": "lam", "type": "quantitative"}}},
            {"data": {"values": [{}]},
             "mark": {"type": "rule", "color": "#555555", "strokeWidth": 1},
             "encoding": {"x": {"datum": 27}, "y": {"datum": 7.46}, "y2": {"datum": 7.11}}},
            {"data": {"values": [{}]},
             "mark": {"type": "point", "shape": "M-1,-1.3L0,0L1,-1.3", "size": 30, "filled": false, "color": "#555555", "strokeWidth": 1},
             "encoding": {"x": {"datum": 27}, "y": {"datum": 7.1}}},
            {"data": {"values": [{}]},
             "mark": {"type": "rule", "color": "#555555", "strokeWidth": 1},
             "encoding": {"x": {"datum": 74}, "y": {"datum": 7.44}, "y2": {"datum": 7.11}}},
            {"data": {"values": [{}]},
             "mark": {"type": "point", "shape": "M-1,-1.3L0,0L1,-1.3", "size": 30, "filled": false, "color": "#555555", "strokeWidth": 1},
             "encoding": {"x": {"datum": 74}, "y": {"datum": 7.1}}},
            {"data": {"values": [{}]},
             "mark": {"type": "text", "angle": 270, "fontSize": 10.5, "fill": "#111111"},
             "encoding": {"x": {"datum": 27}, "y": {"datum": 7.72}, "text": {"value": "p-doped"}}},
            {"data": {"values": [{}]},
             "mark": {"type": "text", "angle": 270, "fontSize": 10.5, "fill": "#111111"},
             "encoding": {"x": {"datum": 74}, "y": {"datum": 7.72}, "text": {"value": "n-doped"}}},
            {"data": {"values": [{}]},
             "mark": {"type": "text", "align": "left", "baseline": "middle", "fontSize": 9, "fontStyle": "italic", "fill": "#ff3535"},
             "encoding": {"x": {"datum": -77}, "y": {"datum": 8.1}, "text": {"value": "IMM: g = 74 nm"}}},
            {"data": {"values": [{}]},
             "mark": {"type": "text", "align": "center", "baseline": "top", "dy": 0, "fontSize": 9.5, "fill": "#262626"},
             "encoding": {"x": {"datum": 55}, "y": {"datum": 7}, "text": {"value": "V"}}},
            {"data": {"values": [{}]},
             "mark": {"type": "text", "align": "left", "baseline": "top", "dx": 3.5, "dy": 4.5, "fontSize": 5.5, "fill": "#262626"},
             "encoding": {"x": {"datum": 55}, "y": {"datum": 7}, "text": {"value": "CNP"}}},
            {"data": {"values": [{}]},
             "mark": {"type": "text", "fontSize": 11, "fontWeight": "bold", "fill": "#111111"},
             "encoding": {"x": {"datum": -129}, "y": {"datum": 8.175}, "text": {"value": "g"}}}
          ]
        },
        {
          "width": 111, "height": 88,
          "layer": [
            {"data": {"name": "res"}, "transform": [{"filter": "datum.p == 'h' && datum.vg <= 60"}],
             "mark": {"type": "area", "color": "#b3d98b"},
             "encoding": {
               "x": {"field": "vg", "type": "quantitative", "scale": {"domain": [-80, 80], "nice": false, "zero": false},
                     "axis": {"values": [-80, -60, -40, -20, 0, 20, 40, 60, 80], "tickCount": 20, "labelExpr": "datum.value % 40 == 0 ? datum.label : ''", "labelFontSize": 9.5, "tickSize": -2.5, "labelPadding": 4, "title": "VG (V)", "titleFontSize": 9.5, "titlePadding": 0}},
               "y": {"field": "lam", "type": "quantitative", "scale": {"domain": [7, 8.2], "nice": false, "zero": false},
                     "axis": {"values": [7, 7.4, 7.8, 8.2], "tickCount": 20, "format": ".1f", "labelFontSize": 9.5, "tickSize": -2.5, "labelPadding": 4, "title": "λᵣₑₛ (μm)", "titleFontSize": 9.5, "titlePadding": 3}},
               "y2": {"datum": 7}
             }},
            {"data": {"name": "res"}, "transform": [{"filter": "datum.p == 'h' && datum.vg >= 60"}],
             "mark": {"type": "area", "color": "#8383c6"},
             "encoding": {"x": {"field": "vg", "type": "quantitative"}, "y": {"field": "lam", "type": "quantitative"}, "y2": {"datum": 7}}},
            {"data": {"name": "res"}, "transform": [{"filter": "datum.p == 'h'"}],
             "mark": {"type": "line", "color": "#222222", "strokeWidth": 1, "point": {"shape": "square", "size": 9, "filled": true, "color": "#222222"}},
             "encoding": {"x": {"field": "vg", "type": "quantitative"}, "y": {"field": "lam", "type": "quantitative"}}},
            {"data": {"values": [{}]},
             "mark": {"type": "text", "angle": 270, "fontSize": 10.5, "fill": "#111111"},
             "encoding": {"x": {"datum": 23}, "y": {"datum": 7.38}, "text": {"value": "p-doped"}}},
            {"data": {"values": [{}]},
             "mark": {"type": "text", "angle": 270, "fontSize": 10.5, "fill": "#111111"},
             "encoding": {"x": {"datum": 73}, "y": {"datum": 7.38}, "text": {"value": "n-doped"}}},
            {"data": {"values": [{}]},
             "mark": {"type": "text", "align": "left", "baseline": "middle", "fontSize": 9, "fontStyle": "italic", "fill": "#ff3535"},
             "encoding": {"x": {"datum": -77}, "y": {"datum": 8.1}, "text": {"value": "IMM: g = 8 nm"}}},
            {"data": {"values": [{}]},
             "mark": {"type": "text", "align": "center", "baseline": "top", "dy": 2, "fontSize": 9.5, "fill": "#262626"},
             "encoding": {"x": {"datum": 50}, "y": {"datum": 7}, "text": {"value": "V"}}},
            {"data": {"values": [{}]},
             "mark": {"type": "text", "align": "left", "baseline": "top", "dx": 3.5, "dy": 6.5, "fontSize": 5.5, "fill": "#262626"},
             "encoding": {"x": {"datum": 50}, "y": {"datum": 7}, "text": {"value": "CNP"}}},
            {"data": {"values": [{}]},
             "mark": {"type": "text", "fontSize": 11, "fontWeight": "bold", "fill": "#111111"},
             "encoding": {"x": {"datum": -129}, "y": {"datum": 8.175}, "text": {"value": "h"}}}
          ]
        }
      ]
    }
  ],
  "spacing": 1,
  "center": true
}
